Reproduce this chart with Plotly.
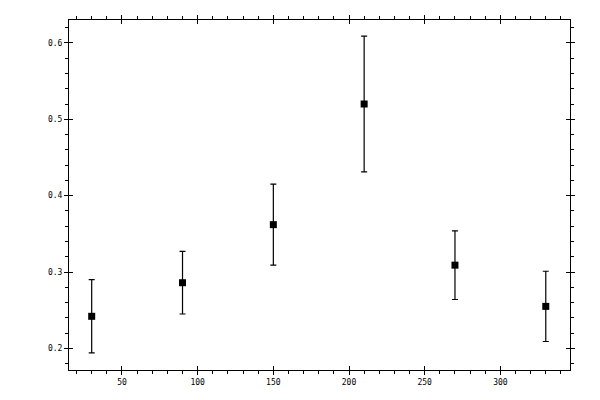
import plotly.graph_objects as go

angles = [30, 90, 150, 210, 270, 330]
values = [0.242, 0.286, 0.362, 0.520, 0.309, 0.255]
errors = [0.048, 0.041, 0.053, 0.089, 0.045, 0.046]

x_range = [15, 346]
y_range = [0.1717, 0.630]
x_ticks = [50, 100, 150, 200, 250, 300]
y_ticks = [0.2, 0.3, 0.4, 0.5, 0.6]

font = dict(family="DejaVu Sans Mono", size=8, color="black")

fig = go.Figure()
fig.add_trace(go.Scatter(
    x=angles, y=values, mode="markers",
    marker=dict(symbol="square", size=7, color="black"),
    error_y=dict(type="data", array=errors, visible=True,
                 color="black", thickness=1.2, width=3),
    xaxis="x", yaxis="y", showlegend=False,
))
# overlay axes for inward half of major ticks
fig.add_trace(go.Scatter(
    x=angles, y=values, mode="markers",
    marker=dict(size=1, opacity=0), hoverinfo="skip",
    xaxis="x2", yaxis="y2", showlegend=False,
))

common = dict(showgrid=False, zeroline=False, linecolor="black", linewidth=1,
              tickcolor="black", tickwidth=1, tickfont=font)

fig.update_layout(
    width=600, height=400,
    margin=dict(l=61, r=38, t=7, b=38),
    paper_bgcolor="white", plot_bgcolor="white",
    xaxis=dict(range=x_range, tickvals=x_ticks, ticktext=[str(v) for v in x_ticks],
               ticks="outside", ticklen=4, showline=True, mirror="ticks",
               minor=dict(dtick=10, tick0=0, ticks="outside", ticklen=3,
                          tickcolor="black", tickwidth=1, showgrid=False),
               **common),
    yaxis=dict(range=y_range, tickvals=y_ticks, ticktext=[f"{v:.1f}" for v in y_ticks],
               ticks="outside", ticklen=4, showline=True, mirror="ticks",
               minor=dict(dtick=0.02, tick0=0, ticks="outside", ticklen=3,
                          tickcolor="black", tickwidth=1, showgrid=False),
               **common),
    xaxis2=dict(range=x_range, tickvals=x_ticks, overlaying="x", anchor="y2",
                ticks="inside", ticklen=4, mirror="ticks", showline=False,
                showticklabels=False, showgrid=False, zeroline=False,
                tickcolor="black", tickwidth=1),
    yaxis2=dict(range=y_range, tickvals=y_ticks, overlaying="y", anchor="x2",
                ticks="inside", ticklen=4, mirror="ticks", showline=False,
                showticklabels=False, showgrid=False, zeroline=False,
                tickcolor="black", tickwidth=1),
)

fig.write_html("out.html")
